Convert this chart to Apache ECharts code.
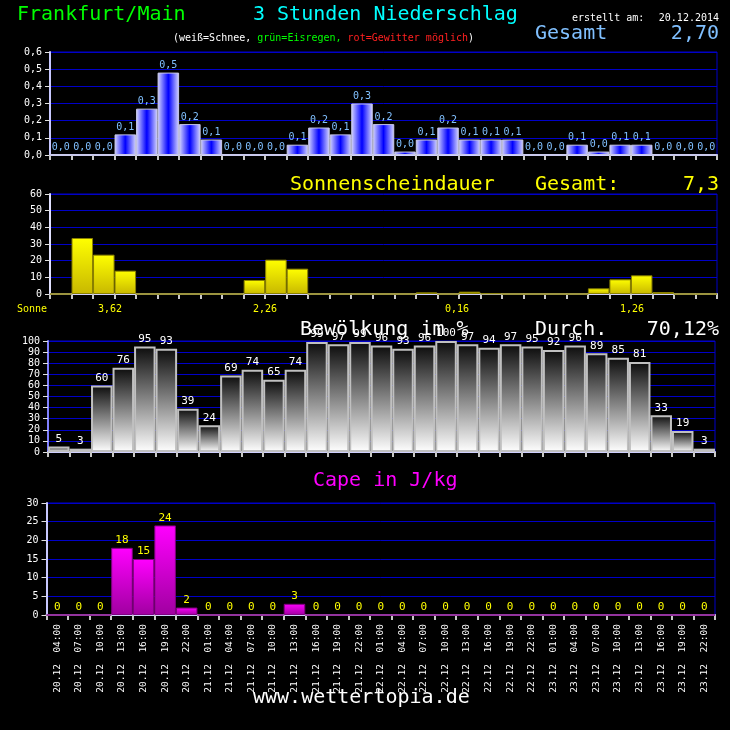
<!DOCTYPE html>
<html>
<head>
<meta charset="utf-8">
<script src="https://cdn.jsdelivr.net/npm/echarts@6/dist/echarts.min.js"></script>
<style>
html,body{margin:0;padding:0;background:#000;}
#c{width:730px;height:730px;}
</style>
</head>
<body>
<div id="c"></div>
<script>
const categories = [
 '20.12 04:00','20.12 07:00','20.12 10:00','20.12 13:00','20.12 16:00','20.12 19:00','20.12 22:00',
 '21.12 01:00','21.12 04:00','21.12 07:00','21.12 10:00','21.12 13:00','21.12 16:00','21.12 19:00','21.12 22:00',
 '22.12 01:00','22.12 04:00','22.12 07:00','22.12 10:00','22.12 13:00','22.12 16:00','22.12 19:00','22.12 22:00',
 '23.12 01:00','23.12 04:00','23.12 07:00','23.12 10:00','23.12 13:00','23.12 16:00','23.12 19:00','23.12 22:00'
];
const precip = [0,0,0,0.12,0.27,0.48,0.18,0.09,0,0,0,0.06,0.16,0.12,0.30,0.18,0.02,0.09,0.16,0.09,0.09,0.09,0,0,0.06,0.02,0.06,0.06,0,0,0];
const sunshine = [0,33.6,23.6,14,0,0,0,0,0,8.4,20.6,15.2,0,0,0,0,0,1,0,1.4,0.3,0,0,0,0,3.4,8.8,11.2,1.2,0,0];
const cloud = [5,3,60,76,95,93,39,24,69,74,65,74,99,97,99,96,93,96,100,97,94,97,95,92,96,89,85,81,33,19,3];
const cape = [0,0,0,18,15,24,2,0,0,0,0,3,0,0,0,0,0,0,0,0,0,0,0,0,0,0,0,0,0,0,0];
const sunDayTotals = ['3,62','2,26','0,16','1,26'];
const sunDayLabelX = [110,265,457,632];

const MONO = '"DejaVu Sans Mono", monospace';
const chart = echarts.init(document.getElementById('c'), null, {renderer:'canvas'});

const grids = [
  {left:50, top:52, width:667, height:103},
  {left:50, top:194, width:667, height:100},
  {left:48, top:341, width:667, height:111},
  {left:46.5, top:503, width:668.5, height:112}
].map(g => Object.assign({show:true, borderColor:'#0000c8', borderWidth:1, backgroundColor:'transparent'}, g));

function xAx(i){
  return {
    type:'category', gridIndex:i, data:categories, boundaryGap:true,
    axisLine:{show:true, lineStyle:{color:'#d0d0ff', width:2}},
    axisTick:{show:true, length:5, interval:0, lineStyle:{color:'#c8c8c8', width:2}},
    axisLabel: i===3 ? {
      show:true, rotate:90, interval:0, margin:9, color:'#ffffff', fontSize:9.5, fontFamily:MONO,
      formatter: v => { const p=v.split(' '); return p[0] + '  ' + p[1]; }
    } : {show:false},
    splitLine:{show:false}
  };
}
function yAx(i,max,interval,fmt,lineColor){
  return {
    type:'value', gridIndex:i, min:0, max:max, interval:interval,
    axisLine:{show:true, lineStyle:{color:lineColor, width:2}},
    axisTick:{show:true, length:5, lineStyle:{color:'#e0e0e0'}},
    axisLabel:{color:'#ffffff', fontSize:10, fontFamily:MONO, margin:8, formatter:fmt},
    splitLine:{show:true, lineStyle:{color:'#0000c8', width:1}}
  };
}
const comma1 = v => (Math.round(v*10)/10).toFixed(1).replace('.',',');

const option = {
  backgroundColor:'#000',
  animation:false,
  grid:grids,
  xAxis:[xAx(0),xAx(1),xAx(2),xAx(3)],
  yAxis:[
    yAx(0,0.6,0.1,v=>v.toFixed(1).replace('.',','),'#c8c8ff'),
    yAx(1,60,10,v=>String(v),'#e0e0ff'),
    yAx(2,100,10,v=>String(v),'#8080ff'),
    yAx(3,30,5,v=>String(v),'#c8c8ff')
  ],
  series:[
    {type:'bar', xAxisIndex:0, yAxisIndex:0, data:precip, barCategoryGap:'0%',
     itemStyle:{color:{type:'linear',x:0,y:0,x2:1,y2:0,colorStops:[{offset:0,color:'#d8d8ff'},{offset:0.5,color:'#0000ff'},{offset:1,color:'#d8d8ff'}]},
       borderColor:'#c8c8e8', borderWidth:1},
     label:{show:true, position:'top', distance:2, color:'#80c0ff', fontSize:10, fontFamily:MONO, formatter:p=>comma1(p.value)}},
    {type:'bar', xAxisIndex:1, yAxisIndex:1, data:sunshine, barCategoryGap:'0%',
     itemStyle:{color:{type:'linear',x:0,y:0,x2:0,y2:1,colorStops:[{offset:0,color:'#ffff00'},{offset:1,color:'#c8b800'}]},
       borderColor:'#8a8000', borderWidth:1}},
    {type:'bar', xAxisIndex:2, yAxisIndex:2, data:cloud, barCategoryGap:'0%',
     itemStyle:{color:{type:'linear',x:0,y:0,x2:0,y2:1,colorStops:[{offset:0,color:'#0c0c0c'},{offset:1,color:'#ffffff'}]},
       borderColor:'#c0c0c0', borderWidth:2},
     label:{show:true, position:'top', distance:2, color:'#ffffff', fontSize:11, fontFamily:MONO}},
    {type:'bar', xAxisIndex:3, yAxisIndex:3, data:cape, barCategoryGap:'0%',
     itemStyle:{color:{type:'linear',x:0,y:0,x2:0,y2:1,colorStops:[{offset:0,color:'#ff00ff'},{offset:1,color:'#a000a0'}]},
       borderColor:'#800080', borderWidth:1},
     label:{show:true, position:'top', distance:2, color:'#ffff00', fontSize:11, fontFamily:MONO}}
  ],
  graphic:[]
};

function txt(text,x,y,color,size,align){
  return {type:'text', x:x, y:y, z:100, style:{text:text, fill:color, font:size+'px '+MONO, textAlign:align||'left', textVerticalAlign:'middle'}};
}
const g = option.graphic;
g.push(txt('Frankfurt/Main',17,15,'#00ff00',20));
g.push(txt('3 Stunden Niederschlag',253,15,'#00ffff',20));
g.push(txt('erstellt am:',572,18,'#ffffff',10));
g.push(txt('20.12.2014',719,18,'#ffffff',10,'right'));
g.push({type:'text', x:173, y:38, z:100, style:{
  text:'{w|(weiß=Schnee, }{g|grün=Eisregen, }{r|rot=Gewitter möglich}{w|)}',
  font:'10px '+MONO, textVerticalAlign:'middle',
  rich:{w:{fill:'#ffffff',font:'10px '+MONO},g:{fill:'#00ff00',font:'10px '+MONO},r:{fill:'#ff2020',font:'10px '+MONO}}
}});
g.push(txt('Gesamt',535,34,'#80c0ff',20));
g.push(txt('2,70',719,34,'#80c0ff',20,'right'));
g.push(txt('Sonnenscheindauer',290,185,'#ffff00',20));
g.push(txt('Gesamt:',535,185,'#ffff00',20));
g.push(txt('7,3',719,185,'#ffff00',20,'right'));
g.push(txt('Sonne',17,309,'#ffff00',10));
sunDayTotals.forEach((t,i)=>g.push(txt(t,sunDayLabelX[i],309,'#ffff00',10,'center')));
g.push(txt('Bewölkung im %',300,330,'#ffffff',20));
g.push(txt('Durch.',535,330,'#ffffff',20));
g.push(txt('70,12%',719,330,'#ffffff',20,'right'));
g.push(txt('Cape in J/kg',313,481,'#ff00ff',20));
g.push(txt('www.wettertopia.de',253,698,'#ffffff',20));

chart.setOption(option);
</script>
</body>
</html>
